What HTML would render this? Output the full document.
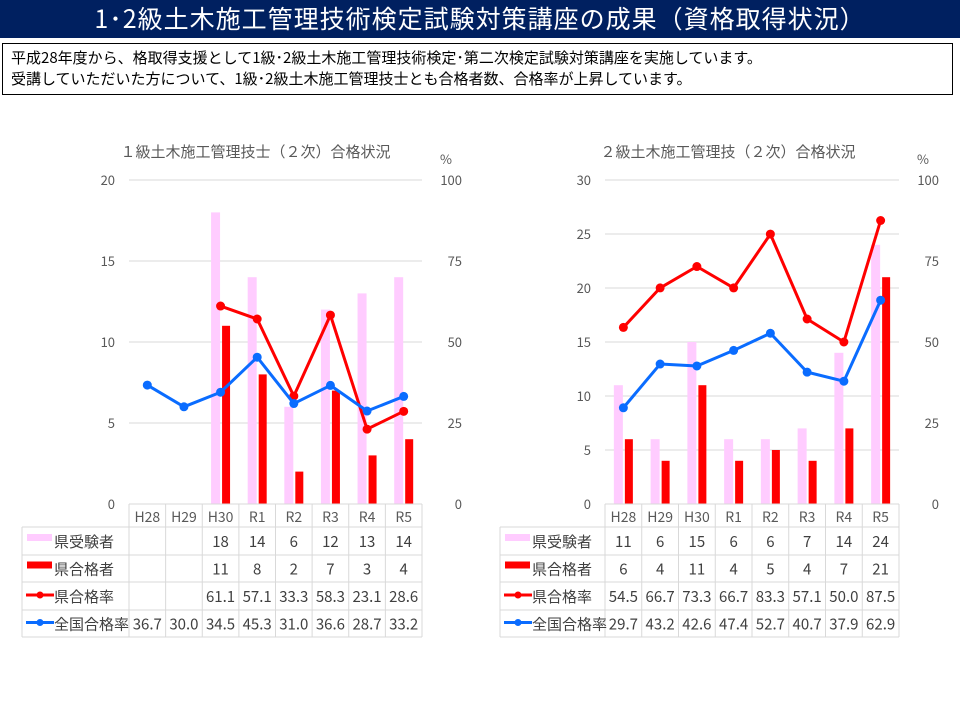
<!DOCTYPE html>
<html><head><meta charset="utf-8">
<style>
body{margin:0;width:960px;height:720px;background:#fff;overflow:hidden;font-family:"Noto Sans CJK JP","Liberation Sans",sans-serif;}
#banner{position:absolute;left:0;top:0;width:960px;height:38px;background:#002060;color:#fff;font-size:25px;text-align:center;line-height:36px;letter-spacing:1px;}
#desc{position:absolute;left:2px;top:43px;width:951px;height:52px;border:1.5px solid #000;font-size:15px;line-height:21px;padding:3px 0 0 8px;box-sizing:border-box;color:#000;}
svg{position:absolute;left:0;top:0;}
</style></head><body>
<div id="banner">1･2級土木施工管理技術検定試験対策講座の成果（資格取得状況）</div>
<div id="desc">平成28年度から、格取得支援として1級･2級土木施工管理技術検定･第二次検定試験対策講座を実施しています。<br>受講していただいた方について、1級･2級土木施工管理技士とも合格者数、合格率が上昇しています。</div>
<svg id="chart" width="960" height="720"></svg>
<script>
const categories=["H28","H29","H30","R1","R2","R3","R4","R5"];
const c1Examinees=[null,null,18,14,6,12,13,14];
const c1Passed=[null,null,11,8,2,7,3,4];
const c1Rate=[null,null,61.1,57.1,33.3,58.3,23.1,28.6];
const c1National=[36.7,30.0,34.5,45.3,31.0,36.6,28.7,33.2];
const c1LeftTicks=[0,5,10,15,20];
const c2Examinees=[11,6,15,6,6,7,14,24];
const c2Passed=[6,4,11,4,5,4,7,21];
const c2Rate=[54.5,66.7,73.3,66.7,83.3,57.1,50.0,87.5];
const c2National=[29.7,43.2,42.6,47.4,52.7,40.7,37.9,62.9];
const c2LeftTicks=[0,5,10,15,20,25,30];
const rightTicks=[0,25,50,75,100];
const legendLabels=["県受験者","県合格者","県合格率","全国合格率"];

const NS="http://www.w3.org/2000/svg";
const svg=document.getElementById('chart');
const FF='"Noto Sans CJK JP","Liberation Sans",sans-serif';
function mk(tag,attrs,parent,name){const e=document.createElementNS(NS,tag);for(const k in attrs)e.setAttribute(k,attrs[k]);


(parent||svg).appendChild(e);return e;}
function txt(x,y,s,size,fill,anchor,parent,name){const t=mk('text',{x:x,y:y,'font-size':size,fill:fill,'text-anchor':anchor||'middle','font-family':FF},parent,name);t.textContent=s;return t;}

function drawChart(o){
  const g=mk('g',{},svg,o.name);
  const x0=o.x0,x1=o.x1,yTop=180,yBot=504;
  const bw=(x1-x0)/categories.length;
  const lmax=o.leftTicks[o.leftTicks.length-1];
  const yL=v=>yBot-(v/lmax)*(yBot-yTop);
  const yR=v=>yBot-(v/100)*(yBot-yTop);
  const xc=i=>x0+bw*(i+0.5);
  txt((x0+x1)/2-o.titleShift,157,o.title,15,'#595959','middle',g,'chart-title');
  txt(x1+24,164,'%',13,'#595959','middle',g,'right-axis-unit');
  o.leftTicks.forEach(t=>{
    if(t>0)mk('line',{x1:x0,x2:x1,y1:yL(t),y2:yL(t),stroke:'#d9d9d9','stroke-width':1},g,'gridline');
    txt(x0-14,yL(t)+5,String(t),13,'#595959','end',g,'left-tick-label');
  });
  rightTicks.forEach(t=>txt(x1+40,yR(t)+5,String(t),13,'#595959','end',g,'right-tick-label'));
  categories.forEach((c,i)=>{
    if(o.exam[i]!=null)mk('rect',{x:xc(i)-9.5,y:yL(o.exam[i]),width:9,height:yBot-yL(o.exam[i]),fill:'#ffccff'},g,'bar-examinees');
    if(o.pass[i]!=null)mk('rect',{x:xc(i)+1.5,y:yL(o.pass[i]),width:8,height:yBot-yL(o.pass[i]),fill:'#ff0000'},g,'bar-passed');
  });
  [[o.rate,'#ff0000','line-pref-rate'],[o.nat,'#0a6cff','line-national-rate']].forEach(([arr,col,nm])=>{
    let d='';arr.forEach((v,i)=>{if(v==null)return;d+=(d?'L':'M')+xc(i)+' '+yR(v);});
    mk('path',{d:d,fill:'none',stroke:col,'stroke-width':3,'stroke-linejoin':'round'},g,nm);
    arr.forEach((v,i)=>{if(v!=null)mk('circle',{cx:xc(i),cy:yR(v),r:4.5,fill:col},g,nm+'-point');});
  });
  const rows=[504,527,555,582,610,637];
  const tl=o.tableLeft;
  mk('line',{x1:x0,x2:x1,y1:rows[0],y2:rows[0],stroke:'#d9d9d9'},g,'table-line');
  for(let r=1;r<rows.length;r++)mk('line',{x1:tl,x2:x1,y1:rows[r],y2:rows[r],stroke:'#d9d9d9'},g,'table-line');
  mk('line',{x1:tl,x2:tl,y1:rows[1],y2:rows[5],stroke:'#d9d9d9'},g,'table-line');
  for(let i=0;i<=categories.length;i++)mk('line',{x1:x0+bw*i,x2:x0+bw*i,y1:rows[0],y2:rows[5],stroke:'#d9d9d9'},g,'table-line');
  categories.forEach((c,i)=>txt(xc(i),rows[0]+18,c,14,'#595959','middle',g,'category-label'));
  const data=[o.exam,o.pass,o.rate,o.nat];
  data.forEach((arr,r)=>{
    const cy=(rows[r+1]+rows[r+2])/2;
    arr.forEach((v,i)=>{if(v!=null)txt(xc(i),cy+6,r>=2?v.toFixed(1):String(v),15,'#404040','middle',g,'table-value');});
    const lx=tl+5;
    if(r===0)mk('rect',{x:lx,y:cy-7,width:25,height:7,fill:'#ffccff'},g,'legend-examinees');
    if(r===1)mk('rect',{x:lx,y:cy-7,width:25,height:7,fill:'#ff0000'},g,'legend-passed');
    if(r===2){mk('line',{x1:lx-1,x2:lx+27,y1:cy-1,y2:cy-1,stroke:'#ff0000','stroke-width':3},g,'legend-pref-rate');mk('circle',{cx:lx+13,cy:cy-1,r:3.5,fill:'#ff0000'},g,'legend-pref-rate-dot');}
    if(r===3){mk('line',{x1:lx-1,x2:lx+27,y1:cy-1,y2:cy-1,stroke:'#0a6cff','stroke-width':3},g,'legend-national-rate');mk('circle',{cx:lx+13,cy:cy-1,r:3.5,fill:'#0a6cff'},g,'legend-national-rate-dot');}
    txt(tl+32,cy+6,legendLabels[r],15,'#404040','start',g,'legend-label');
  });
}
drawChart({name:'chart-grade1',x0:129,x1:422,tableLeft:22,leftTicks:c1LeftTicks,exam:c1Examinees,pass:c1Passed,rate:c1Rate,nat:c1National,title:'１級土木施工管理技士（２次）合格状況',titleShift:20});
drawChart({name:'chart-grade2',x0:605,x1:899,tableLeft:500,leftTicks:c2LeftTicks,exam:c2Examinees,pass:c2Passed,rate:c2Rate,nat:c2National,title:'２級土木施工管理技（２次）合格状況',titleShift:24});
</script>
</body></html>
